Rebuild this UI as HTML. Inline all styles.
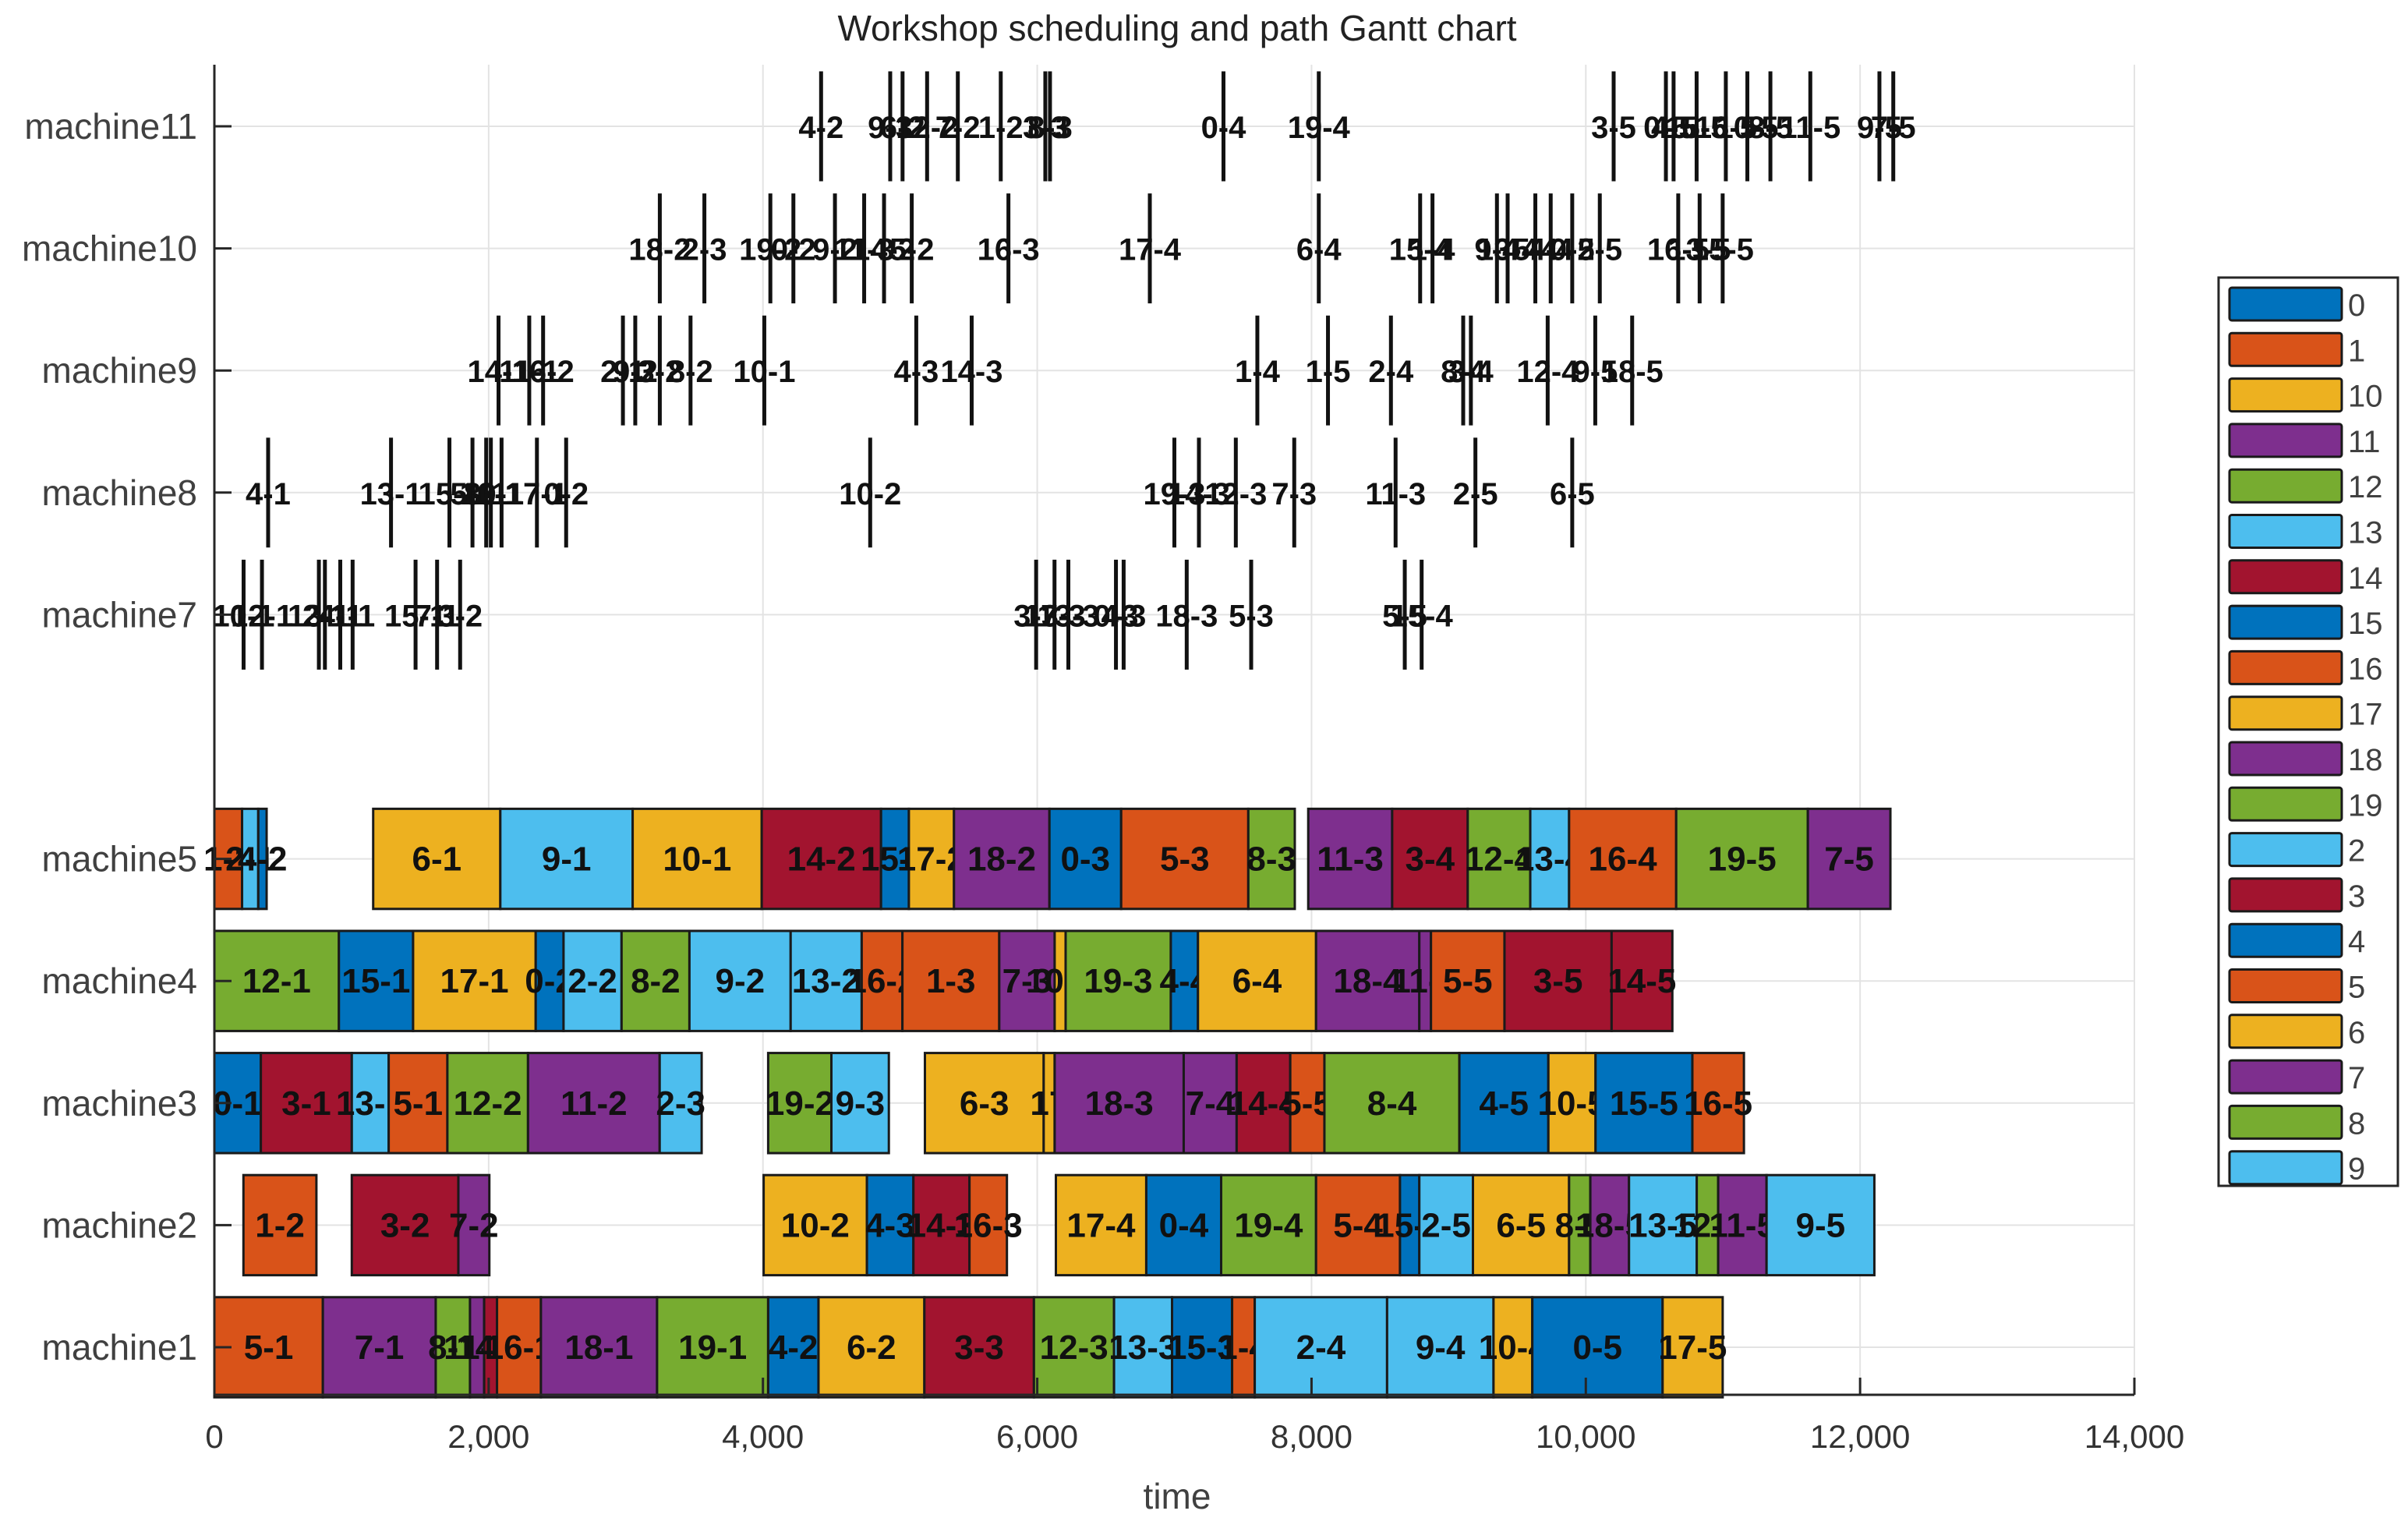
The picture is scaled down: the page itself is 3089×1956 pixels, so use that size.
<!DOCTYPE html>
<html><head><meta charset="utf-8"><style>
html,body{margin:0;padding:0;background:#fff;}
svg{display:block;font-family:"Liberation Sans",Arial,sans-serif;}
</style></head><body>
<svg id="chart" width="3089" height="1956" viewBox="0 0 3089 1956" xmlns="http://www.w3.org/2000/svg">
<rect x="0" y="0" width="3089" height="1956" fill="#fff"/>
<g id="grid"></g>
<g id="bars"></g>
<g id="axes"></g>
<text x="1510" y="52" font-size="46" text-anchor="middle" fill="#222">Workshop scheduling and path Gantt chart</text>
<text x="1510" y="1935" font-size="46" text-anchor="middle" fill="#404040">time</text>
<g id="legend"></g>
</svg>
<script>
const machines = [1,2,3,4,5,7,8,9,10,11];
const xTicks = [0,2000,4000,6000,8000,10000,12000,14000];
const xTickLabels = ["0","2,000","4,000","6,000","8,000","10,000","12,000","14,000"];
const legendJobs = ["0","1","10","11","12","13","14","15","16","17","18","19","2","3","4","5","6","7","8","9"];
const palette = ["#0072BD","#D95319","#EDB120","#7E2F8E","#77AC30","#4DBEEE","#A2142F"];
// [machine, start, end, label]
const m1 = [[1,0,791,"5-1"],[1,791,1614,"7-1"],[1,1614,1864,"8-1"],[1,1864,1967,"11-1"],[1,1967,2061,"14-1"],[1,2061,2381,"16-1"],[1,2381,3228,"18-1"],[1,3228,4038,"19-1"],[1,4038,4405,"4-2"],[1,4405,5177,"6-2"],[1,5177,5976,"3-3"],[1,5976,6560,"12-3"],[1,6560,6983,"13-3"],[1,6983,7421,"15-3"],[1,7421,7586,"1-4"],[1,7586,8551,"2-4"],[1,8551,9327,"9-4"],[1,9327,9610,"10-4"],[1,9610,10560,"0-5"],[1,10560,10998,"17-5"]];
const m2 = [[2,212,744,"1-2"],[2,1002,1779,"3-2"],[2,1779,2005,"7-2"],[2,4005,4758,"10-2"],[2,4758,5097,"4-3"],[2,5097,5506,"14-3"],[2,5506,5779,"16-3"],[2,6136,6795,"17-4"],[2,6795,7341,"0-4"],[2,7341,8033,"19-4"],[2,8033,8645,"5-4"],[2,8645,8786,"15-4"],[2,8786,9177,"2-5"],[2,9177,9878,"6-5"],[2,9878,10033,"8-5"],[2,10033,10315,"18-5"],[2,10315,10809,"13-5"],[2,10809,10965,"12-5"],[2,10965,11318,"11-5"],[2,11318,12104,"9-5"]];
const m3 = [[3,0,339,"0-1"],[3,339,1002,"3-1"],[3,1002,1271,"13-1"],[3,1271,1699,"5-1"],[3,1699,2287,"12-2"],[3,2287,3247,"11-2"],[3,3247,3553,"2-3"],[3,4038,4499,"19-2"],[3,4499,4918,"9-3"],[3,5181,6047,"6-3"],[3,6047,6127,"17"],[3,6127,7068,"18-3"],[3,7068,7454,"7-4"],[3,7454,7845,"14-4"],[3,7845,8094,"5-5"],[3,8094,9078,"8-4"],[3,9078,9727,"4-5"],[3,9727,10071,"10-5"],[3,10071,10777,"15-5"],[3,10777,11153,"16-5"]];
const m4 = [[4,0,908,"12-1"],[4,908,1449,"15-1"],[4,1449,2343,"17-1"],[4,2343,2546,"0-2"],[4,2546,2969,"2-2"],[4,2969,3464,"8-2"],[4,3464,4202,"9-2"],[4,4202,4720,"13-2"],[4,4720,5017,"16-2"],[4,5017,5723,"1-3"],[4,5723,6127,"7-3"],[4,6127,6207,"10-3"],[4,6207,6974,"19-3"],[4,6974,7172,"4-4"],[4,7172,8033,"6-4"],[4,8033,8786,"18-4"],[4,8786,8871,"11-4"],[4,8871,9407,"5-5"],[4,9407,10188,"3-5"],[4,10188,10631,"14-5"]];
const m5 = [[5,0,202,"1-1"],[5,202,320,"2-1"],[5,320,381,"4-2"],[5,1158,2085,"6-1"],[5,2085,3050,"9-1"],[5,3050,3991,"10-1"],[5,3991,4861,"14-2"],[5,4861,5064,"15-2"],[5,5064,5393,"17-2"],[5,5393,6089,"18-2"],[5,6089,6612,"0-3"],[5,6612,7539,"5-3"],[5,7539,7878,"8-3"],[5,7976,8588,"11-3"],[5,8588,9139,"3-4"],[5,9139,9595,"12-4"],[5,9595,9878,"13-4"],[5,9878,10659,"16-4"],[5,10659,11619,"19-5"],[5,11619,12221,"7-5"]];
// transfer (path) events: [machine, time, label]
const m7 = [[7,213,"10-1"],[7,347,"12-1"],[7,762,"13-1"],[7,806,"2-1"],[7,918,"4-1"],[7,1008,"1-1"],[7,1467,"15-1"],[7,1624,"7-1"],[7,1792,"3-2"],[7,5992,"3-3"],[7,6126,"17-3"],[7,6227,"13-3"],[7,6574,"0-3"],[7,6630,"4-3"],[7,7090,"18-3"],[7,7560,"5-3"],[7,8680,"5-5"],[7,8803,"15-4"]];
const m8 = [[8,392,"4-1"],[8,1288,"13-1"],[8,1714,"15-1"],[8,1882,"5-2"],[8,1982,"8-1"],[8,2016,"16-1"],[8,2094,"0-1"],[8,2352,"17-1"],[8,2565,"0-2"],[8,4782,"10-2"],[8,7000,"19-3"],[8,7179,"14-3"],[8,7448,"12-3"],[8,7874,"7-3"],[8,8613,"11-3"],[8,9195,"2-5"],[8,9901,"6-5"]];
const m9 = [[9,2072,"14-1"],[9,2296,"11-1"],[9,2397,"16-2"],[9,2979,"2-1"],[9,3069,"9-2"],[9,3248,"3-2"],[9,3472,"8-2"],[9,4010,"10-1"],[9,5118,"4-3"],[9,5522,"14-3"],[9,7605,"1-4"],[9,8120,"1-5"],[9,8579,"2-4"],[9,9106,"8-4"],[9,9162,"3-4"],[9,9722,"12-4"],[9,10069,"9-5"],[9,10338,"18-5"]];
const m10 = [[10,3248,"18-2"],[10,3573,"2-3"],[10,4054,"19-2"],[10,4222,"0-2"],[10,4525,"9-2"],[10,4738,"11-3"],[10,4883,"14-2"],[10,5085,"5-2"],[10,5790,"16-3"],[10,6821,"17-4"],[10,8053,"6-4"],[10,8792,"15-4"],[10,8882,"1-4"],[10,9352,"9-4"],[10,9430,"13-4"],[10,9632,"5-4"],[10,9744,"4-4"],[10,9901,"0-5"],[10,10102,"2-5"],[10,10674,"16-5"],[10,10830,"13-5"],[10,10998,"15-5"]];
const m11 = [[11,4424,"4-2"],[11,4928,"9-3"],[11,5018,"6-2"],[11,5197,"12-2"],[11,5421,"7-2"],[11,5734,"1-2"],[11,6059,"3-3"],[11,6093,"8-3"],[11,7358,"0-4"],[11,8053,"19-4"],[11,10203,"3-5"],[11,10584,"0-5"],[11,10640,"4-5"],[11,10808,"15-5"],[11,11021,"16-5"],[11,11178,"10-5"],[11,11346,"8-5"],[11,11637,"11-5"],[11,12141,"9-5"],[11,12242,"7-5"]];

const NS="http://www.w3.org/2000/svg";
const X0=275, X1=2738, XMAX=14000;
const Y1=1728, YSTEP=156.6;
function xs(t){return X0+(X1-X0)*t/XMAX;}
function ys(m){return Y1-(m-1)*YSTEP;}
const plotTop=83, plotBottom=1789;
function colorOf(job){return palette[legendJobs.indexOf(job)%7];}
function mk(tag,attrs,parent){const e=document.createElementNS(NS,tag);for(const k in attrs)e.setAttribute(k,attrs[k]);parent.appendChild(e);return e;}

const grid=document.getElementById('grid');
xTicks.forEach(t=>{ if(t>0){const l=mk('line',{x1:xs(t),x2:xs(t),y1:plotTop,y2:plotBottom,stroke:'#e3e3e3','stroke-width':2},grid);

}});
const yTickVals=[1,2,3,4,5,7,8,9,10,11];
yTickVals.forEach(m=>{const l=mk('line',{x1:X0,x2:X1,y1:ys(m),y2:ys(m),stroke:'#e3e3e3','stroke-width':2},grid);

});

const bars=document.getElementById('bars');
const H=0.82*YSTEP;
[m1,m2,m3,m4,m5].forEach(rows=>rows.forEach(r=>{
  const job=r[3].split('-')[0];
  const x=xs(r[1]), w=xs(r[2])-xs(r[1]);
  const b=mk('rect',{x:x,y:ys(r[0])-H/2,width:w,height:H,fill:colorOf(job),stroke:'#1a1a1a','stroke-width':3},bars);
  
  
  const tx=mk('text',{x:x+w/2,y:ys(r[0])+15,'font-size':44,'font-weight':'bold','text-anchor':'middle',fill:'#111'},bars);
  tx.textContent=r[3];
  
  
}));
const LH=0.9*YSTEP;
[m7,m8,m9,m10,m11].forEach(rows=>rows.forEach(r=>{
  const x=xs(r[1]);
  const tx=mk('text',{x:x,y:ys(r[0])+15,'font-size':40,'font-weight':'bold','text-anchor':'middle',fill:'#111'},bars);
  tx.textContent=r[2];
  
  
  const l=mk('line',{x1:x,x2:x,y1:ys(r[0])-LH/2,y2:ys(r[0])+LH/2,stroke:'#111','stroke-width':5},bars);
  
  
}));

const axes=document.getElementById('axes');
let a=mk('line',{x1:X0,x2:X0,y1:plotTop,y2:plotBottom,stroke:'#262626','stroke-width':3},axes);


a=mk('line',{x1:X0,x2:X1,y1:plotBottom,y2:plotBottom,stroke:'#262626','stroke-width':3},axes);


xTicks.forEach((t,i)=>{
  const l=mk('line',{x1:xs(t),x2:xs(t),y1:plotBottom,y2:plotBottom-22,stroke:'#262626','stroke-width':3},axes);
  
  
  const tx=mk('text',{x:xs(t),y:plotBottom+68,'font-size':42,'text-anchor':'middle',fill:'#333'},axes);
  tx.textContent=xTickLabels[i];
  
  
});
yTickVals.forEach(m=>{
  const l=mk('line',{x1:X0,x2:X0+22,y1:ys(m),y2:ys(m),stroke:'#262626','stroke-width':3},axes);
  
  
  const tx=mk('text',{x:X0-22,y:ys(m)+16,'font-size':46,'text-anchor':'end',fill:'#404040'},axes);
  tx.textContent='machine'+m;
  
  
});

const lg=document.getElementById('legend');
const box=mk('rect',{x:2846,y:356,width:230,height:1165,fill:'#fff',stroke:'#262626','stroke-width':3},lg);


legendJobs.forEach((j,i)=>{
  const y=369+i*58.3;
  const s=mk('rect',{x:2860,y:y,width:144,height:42,fill:palette[i%7],stroke:'#1a1a1a','stroke-width':3,rx:3},lg);
  
  
  const tx=mk('text',{x:3012,y:y+36,'font-size':40,fill:'#404040'},lg);
  tx.textContent=j;
  
  
});
</script>
</body></html>
